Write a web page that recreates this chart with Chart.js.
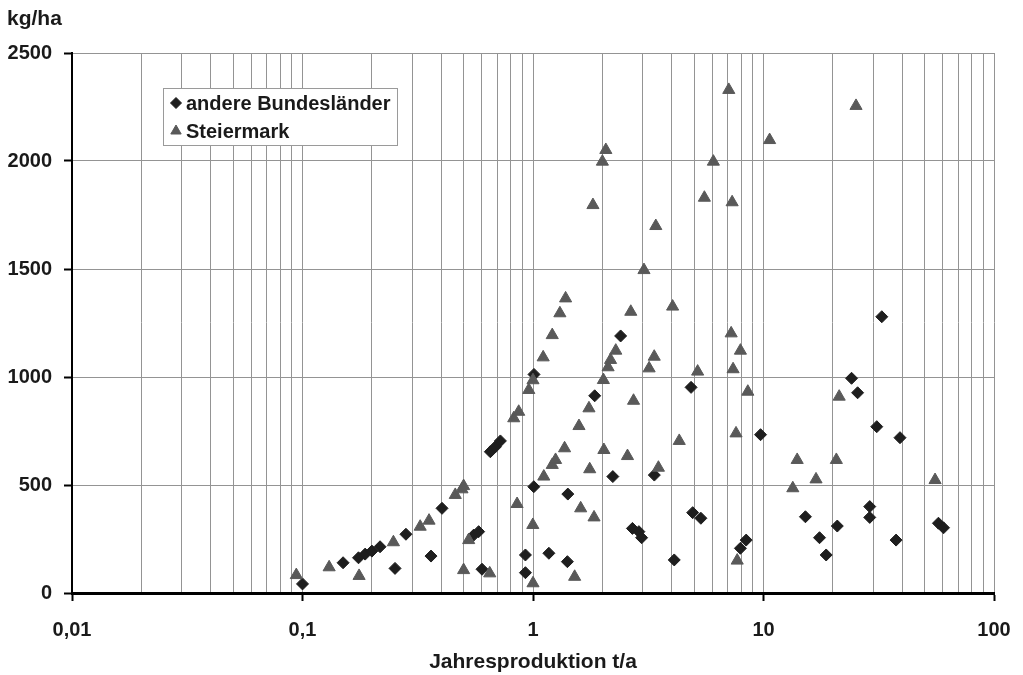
<!DOCTYPE html>
<html><head><meta charset="utf-8">
<script src="https://cdn.jsdelivr.net/npm/chart.js@4/dist/chart.umd.min.js"></script>
<style>html,body{margin:0;padding:0;background:#fff;overflow:hidden}#wrap{width:1023px;height:675px}</style>
</head><body><div id="wrap"><canvas id="c" width="1023" height="675"></canvas></div>
<script>
const seriesNames = ['andere Bundesländer', 'Steiermark'];
const yTitle = 'kg/ha';
const xTitle = 'Jahresproduktion t/a';
const xMajorTicks = [0.01, 0.1, 1, 10, 100];
const xTickLabels = ['0,01', '0,1', '1', '10', '100'];

const andereX = [0.1, 0.15, 0.175, 0.187, 0.2, 0.217, 0.252, 0.281, 0.361, 0.403,
  0.553, 0.581, 0.601, 0.653, 0.687, 0.722, 0.927, 0.927, 1.008, 1.01,
  1.172, 1.41, 1.416, 1.852, 2.22, 2.40, 2.70, 2.88, 2.96, 3.36,
  4.10, 4.85, 4.93, 5.35, 7.94, 8.41, 9.71, 15.2, 17.5, 18.7,
  20.9, 24.1, 25.6, 28.9, 28.9, 31.0, 32.6, 37.6, 39.1, 57.4, 60.4];
const andereY = [42, 140, 163, 180, 194, 214, 114, 272, 171, 392,
  268, 284, 110, 654, 677, 704, 176, 94, 492, 1012,
  184, 145, 458, 913, 539, 1190, 299, 284, 256, 546,
  153, 952, 372, 346, 207, 245, 733, 353, 256, 176,
  310, 994, 927, 400, 350, 770, 1279, 245, 719, 323, 302];

const steierX = [0.094, 0.1305, 0.176, 0.248, 0.324, 0.354, 0.46, 0.492, 0.5, 0.526,
  0.5, 0.649, 0.825, 0.853, 0.867, 0.959, 0.998, 1.0, 1.0, 1.107,
  1.114, 1.212, 1.212, 1.253, 1.308, 1.371, 1.385, 1.516, 1.583, 1.61,
  1.749, 1.762, 1.82, 1.84, 2.0, 2.03, 2.02, 2.07, 2.117, 2.17,
  2.286, 2.57, 2.656, 2.73, 3.03, 3.19, 3.357, 3.41, 3.5, 4.034,
  4.31, 5.18, 5.54, 6.06, 7.07, 7.24, 7.31, 7.38, 7.6, 7.69,
  7.94, 8.55, 10.63, 13.4, 14.0, 16.9, 20.7, 21.3, 25.2, 55.5];
const steierY = [83, 119, 79, 235, 307, 335, 454, 480, 495, 245,
  106, 91, 809, 412, 839, 940, 315, 45, 985, 1091,
  539, 593, 1194, 616, 1295, 670, 1364, 75, 773, 392,
  855, 573, 1796, 350, 1997, 662, 986, 2051, 1045, 1079,
  1122, 634, 1302, 890, 1495, 1040, 1094, 1699, 580, 1326,
  704, 1025, 1830, 1997, 2329, 1202, 1809, 1036, 739, 150,
  1122, 932, 2097, 485, 616, 526, 616, 909, 2255, 523];

const FONT = '"Liberation Sans", Arial, Helvetica, sans-serif';
const toPts = (xs, ys) => xs.map((x, i) => ({x: x, y: ys[i]}));
const majorIndex = v => xMajorTicks.findIndex(m => Math.abs(Math.log10(v) - Math.log10(m)) < 1e-6);

const overlay = {
  id: 'overlay',
  afterDraw(chart) {
    const ctx = chart.ctx;
    ctx.save();
    ctx.fillStyle = '#1a1a1a';
    ctx.font = 'bold 21px ' + FONT;
    ctx.textAlign = 'left';
    ctx.textBaseline = 'middle';
    ctx.fillText(yTitle, 7, 19);
    const bx = 163, by = 88, bw = 234, bh = 57;
    ctx.fillStyle = '#fff';
    ctx.fillRect(bx, by, bw, bh);
    ctx.strokeStyle = '#9a9a9a';
    ctx.lineWidth = 1;
    ctx.strokeRect(bx + 0.5, by + 0.5, bw, bh);
    const rows = [103, 131];
    chart.data.datasets.forEach((ds, i) => {
      ctx.fillStyle = ds.backgroundColor;
      ctx.strokeStyle = ds.backgroundColor;
      Chart.helpers.drawPoint(ctx, {pointStyle: ds.pointStyle, radius: i === 0 ? 5.5 : 6, borderWidth: 1, rotation: 0}, 176, rows[i]);
      ctx.fillStyle = '#1a1a1a';
      ctx.font = 'bold 20px ' + FONT;
      ctx.textBaseline = 'middle';
      ctx.fillText(ds.label, 186, rows[i] + 1);
    });
    ctx.restore();
  }
};

new Chart(document.getElementById('c'), {
  type: 'scatter',
  data: {
    datasets: [
      {label: seriesNames[0], data: toPts(andereX, andereY), pointStyle: 'rectRot', radius: 6,
       backgroundColor: '#1e1e1e', borderColor: '#1e1e1e', borderWidth: 1, order: 2},
      {label: seriesNames[1], data: toPts(steierX, steierY), pointStyle: 'triangle', radius: 7,
       backgroundColor: '#595959', borderColor: '#595959', borderWidth: 1, order: 1}
    ]
  },
  options: {
    responsive: false,
    animation: false,
    events: [],
    layout: {padding: {top: 53, right: 29, left: 0, bottom: 0}},
    plugins: {legend: {display: false}, tooltip: {enabled: false}},
    scales: {
      x: {
        type: 'logarithmic', min: 0.01, max: 100,
        afterBuildTicks: s => {
          const t = [];
          for (let k = 0; k < xMajorTicks.length - 1; k++) {
            for (let m = 1; m <= 9; m++) t.push({value: +(xMajorTicks[k] * m).toPrecision(6)});
          }
          t.push({value: xMajorTicks[xMajorTicks.length - 1]});
          s.ticks = t;
        },
        afterFit: s => { s.height = 82; s.paddingLeft = 0; s.paddingRight = 0; },
        ticks: {
          autoSkip: false, maxRotation: 0, minRotation: 0, padding: 17, color: '#1a1a1a',
          font: {family: FONT, size: 20, weight: 'bold'},
          callback: v => { const i = majorIndex(v); return i >= 0 ? xTickLabels[i] : ''; }
        },
        grid: {
          color: '#949494', lineWidth: 1, tickLength: 8, drawTicks: true,
          tickColor: c => (c.tick && majorIndex(c.tick.value) >= 0) ? '#000' : 'rgba(0,0,0,0)',
          tickWidth: 2
        },
        border: {color: '#000', width: 3},
        title: {display: true, text: xTitle, color: '#1a1a1a', font: {family: FONT, size: 21, weight: 'bold'}, padding: {top: 0, bottom: 0}}
      },
      y: {
        min: 0, max: 2500,
        afterFit: s => { s.width = 72; },
        ticks: {stepSize: 500, padding: 12, color: '#1a1a1a', font: {family: FONT, size: 20, weight: 'bold'},
          callback: v => String(v)},
        grid: {color: '#949494', lineWidth: 1, tickLength: 8, tickColor: '#000', tickWidth: 2},
        border: {color: '#000', width: 2}
      }
    }
  },
  plugins: [overlay]
});
</script>
</body></html>
